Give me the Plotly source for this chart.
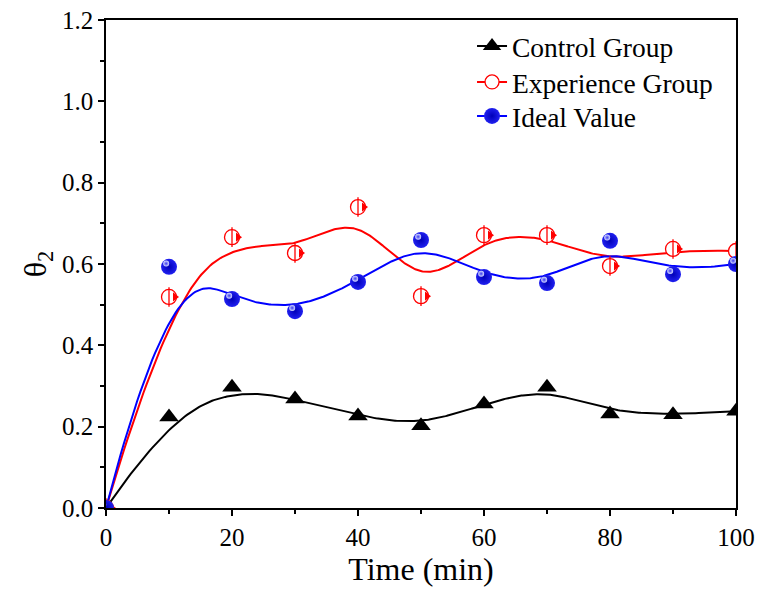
import numpy as np
import plotly.graph_objects as go

time = [0, 10, 20, 30, 40, 50, 60, 70, 80, 90, 100]
control = [0.0, 0.224, 0.297, 0.268, 0.226, 0.202, 0.256, 0.297, 0.231, 0.229, 0.238]
experience = [0.0, 0.519, 0.666, 0.627, 0.740, 0.521, 0.671, 0.671, 0.595, 0.637, 0.632]
ideal = [0.0, 0.593, 0.514, 0.484, 0.556, 0.659, 0.568, 0.553, 0.657, 0.575, 0.600]
x_ticks = [0, 20, 40, 60, 80, 100]
y_ticks = [0.0, 0.2, 0.4, 0.6, 0.8, 1.0, 1.2]


def bspline(xs, ys, k=3, num=400):
    """Clamped B-spline using data points as control points (Origin-style B-spline connect)."""
    P = np.column_stack([xs, ys]).astype(float)
    n = len(P)
    inner = n - k - 1
    knots = np.concatenate([np.zeros(k + 1), np.arange(1, inner + 1), np.full(k + 1, inner + 1)]).astype(float)
    ts = np.linspace(0, knots[-1], num)
    out = []
    for t in ts:
        N = np.zeros(len(knots) - 1)
        for i in range(len(knots) - 1):
            if knots[i] <= t < knots[i + 1]:
                N[i] = 1.0
        if t >= knots[-1]:
            N[n - 1] = 1.0
        for d in range(1, k + 1):
            Nn = np.zeros(len(knots) - 1 - d)
            for i in range(len(Nn)):
                a = 0.0
                if knots[i + d] - knots[i] > 0:
                    a = (t - knots[i]) / (knots[i + d] - knots[i]) * N[i]
                b = 0.0
                if knots[i + d + 1] - knots[i + 1] > 0:
                    b = (knots[i + d + 1] - t) / (knots[i + d + 1] - knots[i + 1]) * N[i + 1]
                Nn[i] = a + b
            N = Nn
        out.append(N[:n] @ P)
    out = np.array(out)
    return out[:, 0], out[:, 1]


font = "Liberation Serif"
fig = go.Figure()

series = [
    ("Control Group", control, "black"),
    ("Experience Group", experience, "red"),
    ("Ideal Value", ideal, "blue"),
]

for name, ys, col in series:
    cx, cy = bspline(time, ys)
    fig.add_trace(go.Scatter(x=cx, y=cy, mode="lines", line=dict(color=col, width=2),
                             showlegend=False, hoverinfo="skip"))

# markers
fig.add_trace(go.Scatter(x=time, y=control, mode="markers", showlegend=False,
                         marker=dict(symbol="triangle-up", size=17, color="black")))
fig.add_trace(go.Scatter(x=time, y=experience, mode="markers", showlegend=False,
                         marker=dict(symbol="circle", size=15, color="white",
                                     line=dict(color="red", width=1.3))))
fig.add_trace(go.Scatter(x=time, y=experience, mode="markers", showlegend=False,
                         marker=dict(symbol="line-ns", size=14,
                                     line=dict(color="red", width=1.3))))
fig.add_trace(go.Scatter(x=[t + 0.95 for t in time], y=experience, mode="markers", showlegend=False,
                         marker=dict(symbol="triangle-right", size=8, color="red")))
fig.add_trace(go.Scatter(x=time, y=ideal, mode="markers", showlegend=False,
                         marker=dict(symbol="circle", size=16, color="#2020f0",
                                     gradient=dict(type="radial", color="#0000b8"),
                                     line=dict(width=0))))
fig.add_trace(go.Scatter(x=[t - 0.45 for t in time], y=[v + 0.008 for v in ideal], mode="markers",
                         showlegend=False, hoverinfo="skip",
                         marker=dict(symbol="circle", size=6, color="#d8dcff",
                                     gradient=dict(type="radial", color="#3a3af0"),
                                     line=dict(width=0))))

# legend entries (one legend per row so the row spacing can match)
fig.add_trace(go.Scatter(x=[None], y=[None], mode="lines+markers", name="Control Group", legend="legend",
                         line=dict(color="black", width=2),
                         marker=dict(symbol="triangle-up", size=17, color="black")))
fig.add_trace(go.Scatter(x=[None], y=[None], mode="lines+markers", name="Experience Group", legend="legend2",
                         line=dict(color="red", width=2),
                         marker=dict(symbol="circle", size=14, color="white",
                                     line=dict(color="red", width=1.3))))
fig.add_trace(go.Scatter(x=[None], y=[None], mode="lines+markers", name="Ideal Value", legend="legend3",
                         line=dict(color="blue", width=2),
                         marker=dict(symbol="circle", size=16, color="#2020f0",
                                     gradient=dict(type="radial", color="#0000b8"))))

fig.update_xaxes(range=[0, 100], tickvals=x_ticks, ticktext=[str(v) for v in x_ticks],
                 showgrid=False, zeroline=False, showline=True, linecolor="black", linewidth=1.5,
                 mirror=True, ticks="outside", ticklen=6, tickwidth=1.5, tickcolor="black",
                 tickfont=dict(family=font, size=25, color="black"), automargin=False,
                 ticklabeloverflow="allow",
                 minor=dict(tickvals=[10, 30, 50, 70, 90], ticks="outside", ticklen=4,
                            tickwidth=1.5, tickcolor="black"),
                 title=dict(text="Time (min)", font=dict(family=font, size=32, color="black"), standoff=4))
fig.update_yaxes(range=[0, 1.2], tickvals=y_ticks, ticktext=[f"{v:.1f}" for v in y_ticks],
                 showgrid=False, zeroline=False, showline=True, linecolor="black", linewidth=1.5,
                 mirror=True, ticks="outside", ticklen=6, tickwidth=1.5, tickcolor="black",
                 tickfont=dict(family=font, size=25, color="black"), automargin=False,
                 ticklabeloverflow="allow",
                 minor=dict(tickvals=[0.1, 0.3, 0.5, 0.7, 0.9, 1.1], ticks="outside", ticklen=4,
                            tickwidth=1.5, tickcolor="black"),
                 title=dict(text="θ<sub>2</sub>", font=dict(family=font, size=32, color="black"), standoff=6))

leg = dict(x=0.581, xanchor="left", yanchor="middle", bgcolor="rgba(0,0,0,0)",
           font=dict(family=font, size=27.5, color="black"), tracegroupgap=0)
fig.update_layout(
    width=758, height=590,
    margin=dict(l=106, r=22, t=20, b=82, autoexpand=False),
    font=dict(family=font, size=25, color="black"),
    plot_bgcolor="white", paper_bgcolor="white",
    legend=dict(y=0.9466, **leg),
    legend2=dict(y=0.8729, **leg),
    legend3=dict(y=0.8032, **leg),
)

fig.write_html(
    "out.html",
    config={"displayModeBar": False},
    post_script=("document.documentElement.style.overflow='hidden';"
                 "document.body.style.overflow='hidden';"
                 "document.body.style.margin='0';"),
)
